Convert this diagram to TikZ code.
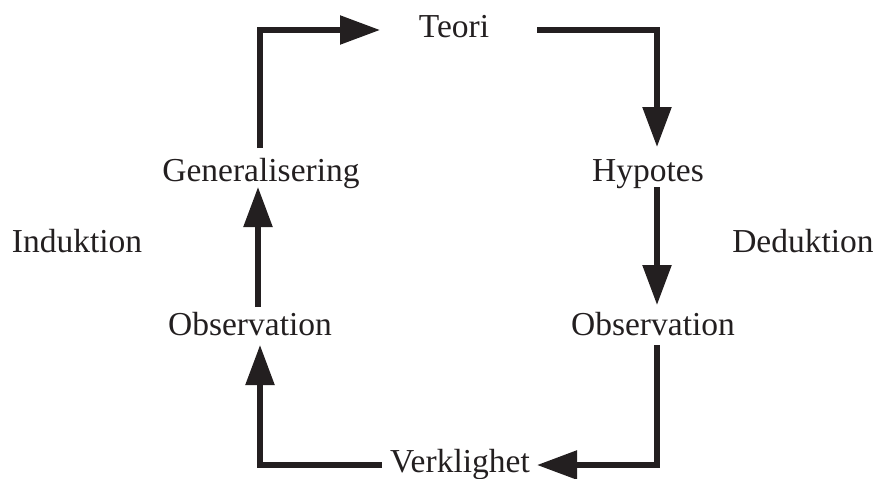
\documentclass[tikz,border=0pt]{standalone}
\usepackage{fontspec}
\setmainfont{Liberation Serif}
\usetikzlibrary{arrows.meta}
\definecolor{ink}{HTML}{231F20}
\begin{document}
\begin{tikzpicture}[x=1pt,y=-1pt,
  lbl/.style={inner sep=0pt,anchor=base,text=ink,font=\fontsize{33.5}{40}\selectfont},
  conn/.style={draw=ink,line width=5.5pt,line join=miter,
    -{Triangle[length=40pt,width=28pt]}}]
\useasboundingbox (0,0) rectangle (879,479);
% labels
\node[lbl] (teori) at (454,37) {Teori};
\node[lbl] (gen)   at (261,181) {Generalisering};
\node[lbl] (hyp)   at (648,181) {Hypotes};
\node[lbl] (obsl)  at (250,335) {Observation};
\node[lbl] (obsr)  at (653,335) {Observation};
\node[lbl] (verk)  at (460,472) {Verklighet};
\node[lbl] (ind)   at (77,252) {Induktion};
\node[lbl] (ded)   at (803,252) {Deduktion};
% connector ends
\coordinate (g-out)  at (260,148);
\coordinate (t-in)   at (380,30);
\coordinate (t-out)  at (537,30);
\coordinate (h-in)   at (657,147);
\coordinate (h-out)  at (657,187);
\coordinate (or-in)  at (657,305);
\coordinate (or-out) at (657,345);
\coordinate (v-in)   at (537,465);
\coordinate (v-out)  at (382,465);
\coordinate (ol-in)  at (260,345);
\coordinate (ol-out) at (258,307);
\coordinate (g-in)   at (258,187);
% connectors
\draw[conn] (g-out) |- (t-in);
\draw[conn] (t-out) -| (h-in);
\draw[conn] (h-out) -- (or-in);
\draw[conn] (or-out) |- (v-in);
\draw[conn] (v-out) -| (ol-in);
\draw[conn] (ol-out) -- (g-in);
\end{tikzpicture}
\end{document}
